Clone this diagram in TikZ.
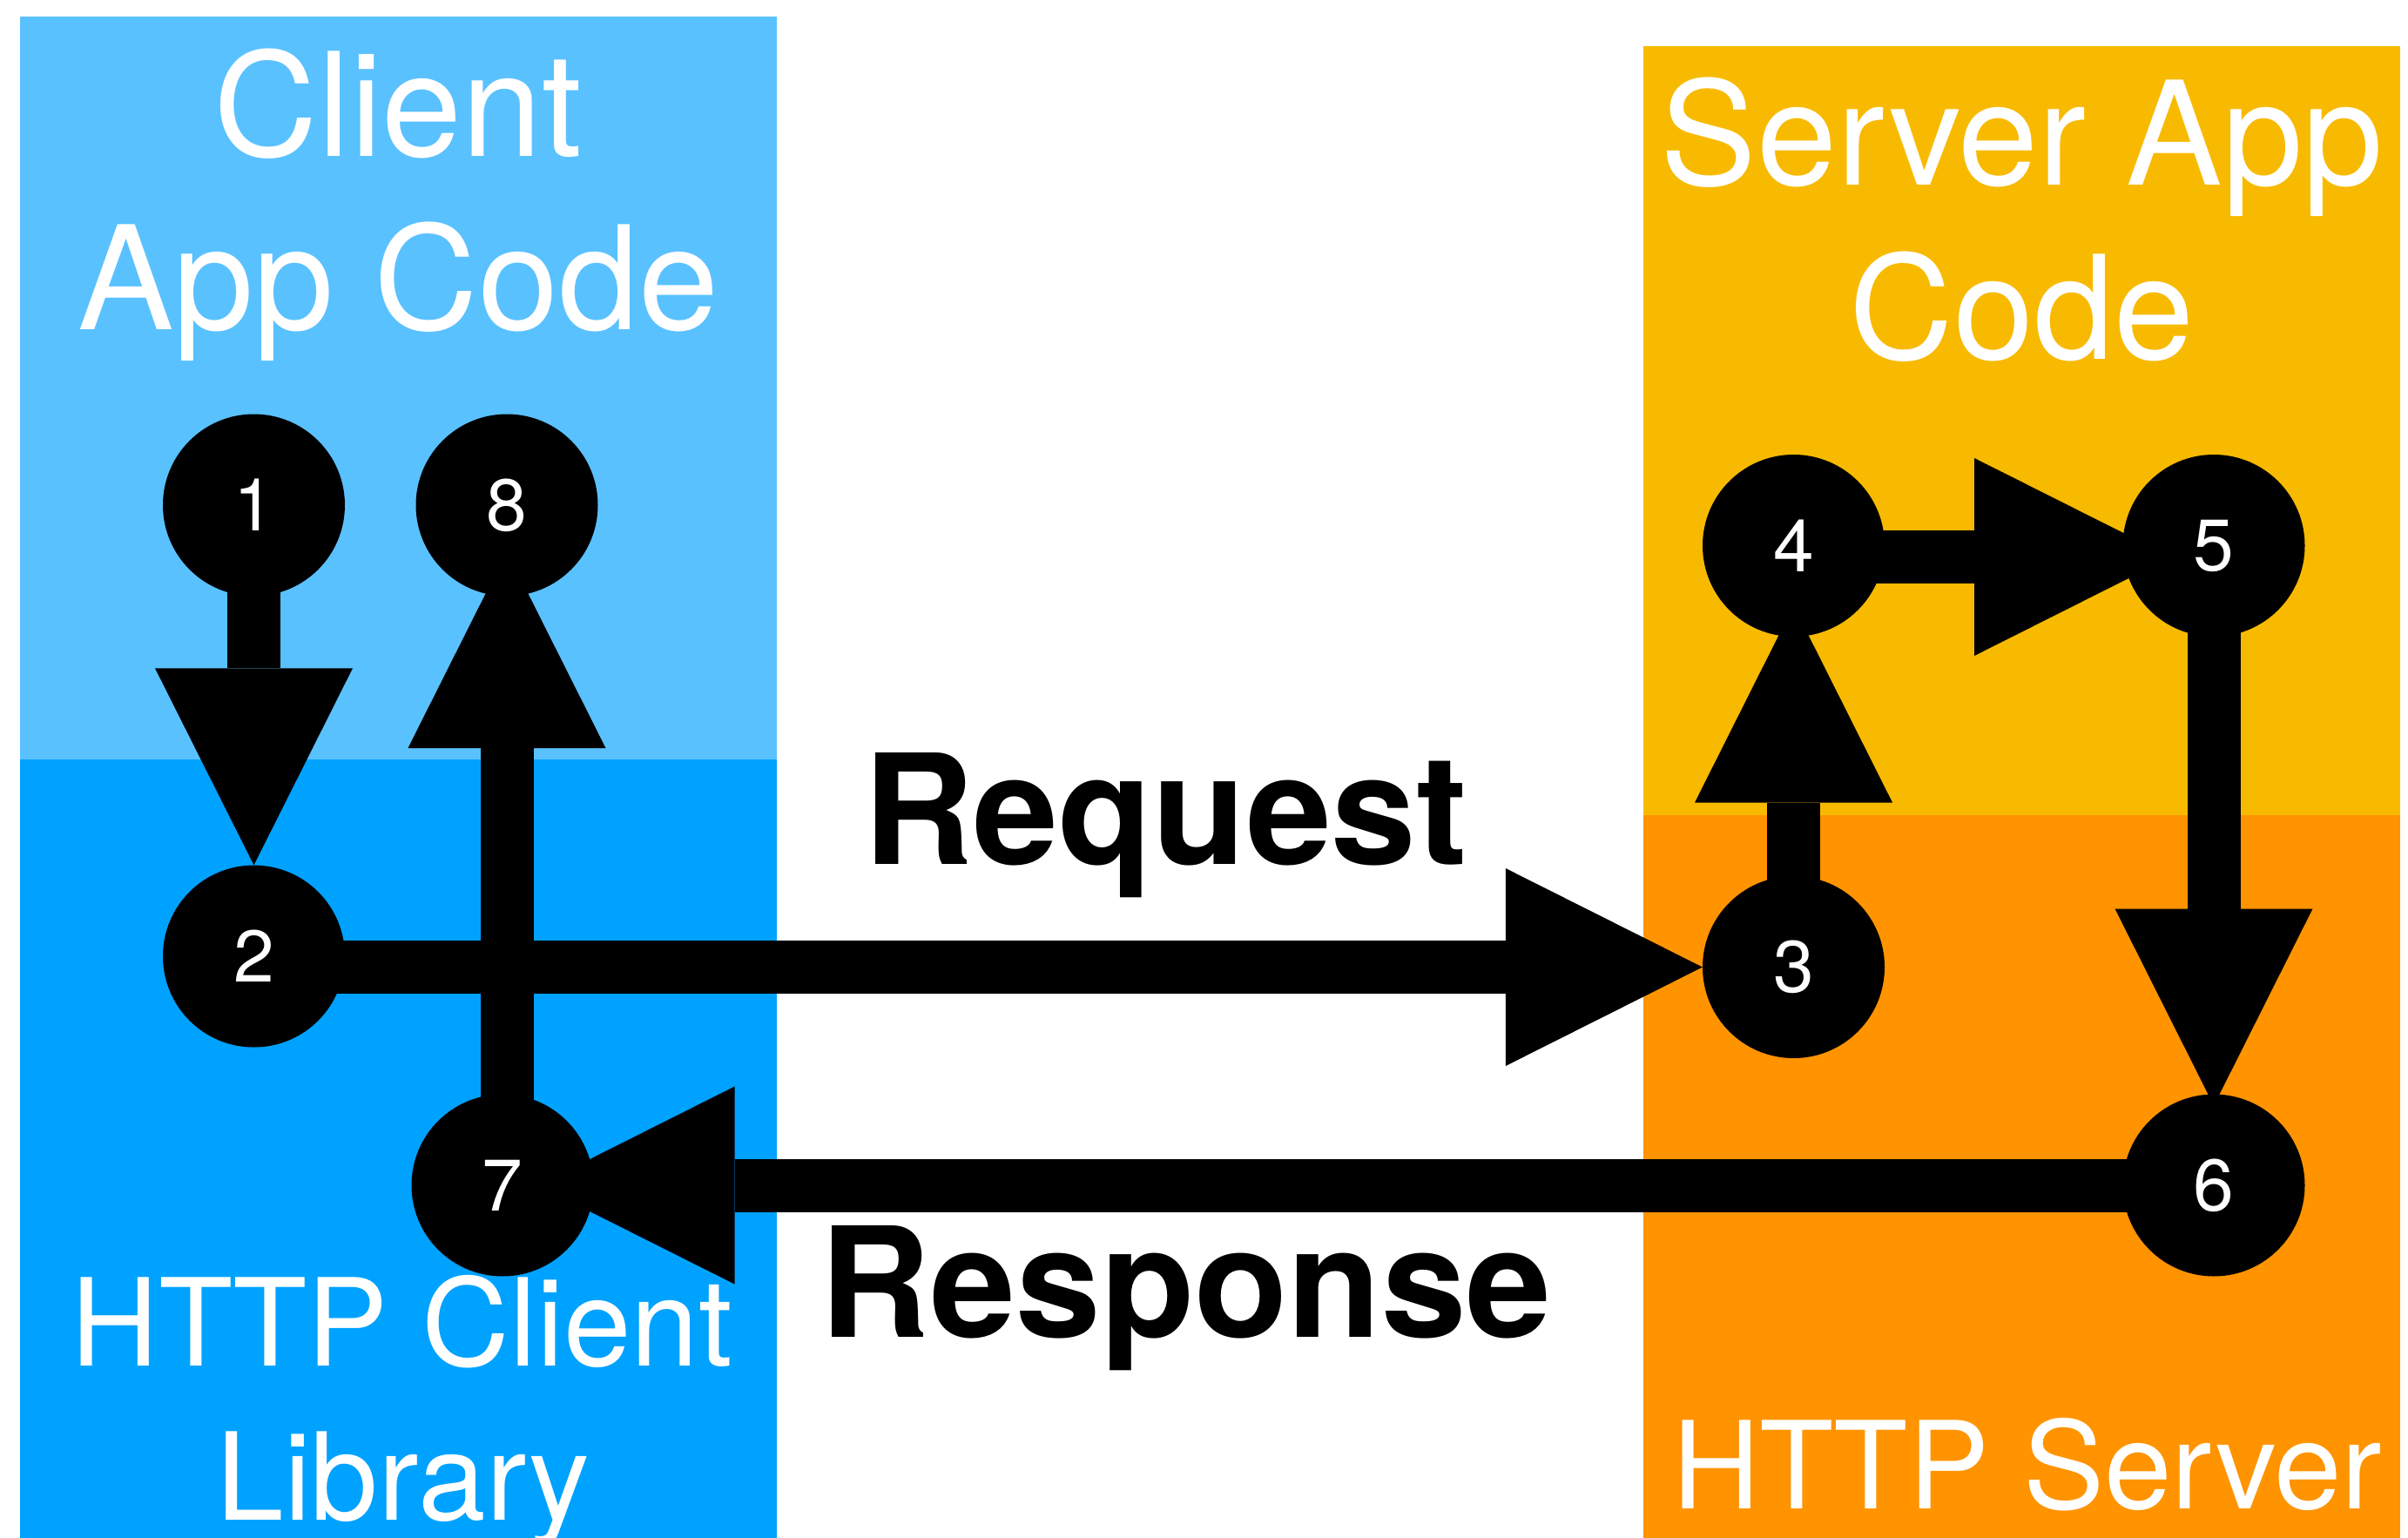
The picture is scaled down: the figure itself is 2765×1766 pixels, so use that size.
\documentclass[tikz,border=0pt]{standalone}
\usepackage{fontspec}
\setmainfont{TeX Gyre Heros}
\usetikzlibrary{arrows.meta,calc}
\pgfdeclarelayer{panels}
\pgfdeclarelayer{links}
\pgfsetlayers{panels,links,main}
\definecolor{clientapp}{HTML}{5AC1FF}
\definecolor{clientlib}{HTML}{00A2FF}
\definecolor{serverapp}{HTML}{F8BA00}
\definecolor{serverhttp}{HTML}{FF9300}
\begin{document}
\begin{tikzpicture}[x=1pt,y=-1pt,
  stepdot/.style={circle, fill=black, minimum size=209pt, inner sep=0pt, text=white,
    font={\fontsize{84pt}{84pt}\selectfont}},
  flow/.style={line width=61pt, -{Triangle[width=227pt,length=226pt,line width=0pt]}},
  title/.style={anchor=base, text=white, inner sep=0pt,
    font={\fontsize{165.5pt}{165.5pt}\selectfont}},
  libtitle/.style={anchor=base, text=white, inner sep=0pt,
    font={\fontsize{139.5pt}{139.5pt}\selectfont}},
  msg/.style={anchor=base, text=black, inner sep=0pt,
    font={\bfseries\fontsize{175.7pt}{175.7pt}\selectfont}},
]
\useasboundingbox (0,0) rectangle (2765,1766);

% background panels
\begin{pgfonlayer}{panels}
  \fill[white] (0,0) rectangle (2765,1766);
  \fill[clientapp]  (22.7,18.9)   rectangle (891.7,871.9);
  \fill[clientlib]  (22.7,871.9)  rectangle (891.7,1766);
  \fill[serverapp]  (1886.8,52.7) rectangle (2756,935.9);
  \fill[serverhttp] (1886.8,935.9) rectangle (2756,1766);
\end{pgfonlayer}

% panel titles
\node[title] (tca1) at (457.4,179.1) {Client};
\node[title] (tca2) at (457.4,378.8) {App Code};
\node[title] (tsa1) at (2321.4,212) {Server App};
\node[title] (tsa2) at (2321.4,412) {Code};
\node[libtitle] (tcl1) at (461.5,1568.5) {HTTP Client};
\node[libtitle] (tcl2) at (463,1745) {Library};
\node[libtitle] (tsh) at (2327.6,1732) {HTTP Server};

% numbered steps
\node[stepdot] (n1) at (291.5,580) {1};
\node[stepdot] (n8) at (582,580) {8};
\node[stepdot] (n2) at (291.5,1098) {2};
\node[stepdot] (n7) at (577,1361) {7};
\node[stepdot] (n3) at (2059.5,1110.5) {3};
\node[stepdot] (n4) at (2059.5,626.5) {4};
\node[stepdot] (n5) at (2542,626.5) {5};
\node[stepdot] (n6) at (2542,1361) {6};

% message labels
\node[msg] (req) at (1338,992.3) {Request};
\node[msg] (resp) at (1361.8,1535.7) {Response};

% flow arrows, drawn beneath the step circles and starting at their centres
\begin{pgfonlayer}{links}
  \draw[flow] (n1.center) -- (n2);
  \draw[flow] (n2 |- n3) -- (n3.west);
  \draw[flow] (n3.center) -- ($(n4)+(0,69)$);
  \draw[flow] ($(n4)+(0,13)$) -- ($(n5)+(-49,13)$);
  \draw[flow] (n5.center) -- ($(n6)+(0,-91.5)$);
  \draw[flow] (n6.center) -- ($(n7)+(40.5,0)$);
  \draw[flow] (n8 |- n7) -- ($(n8)+(0,53)$);
\end{pgfonlayer}
\end{tikzpicture}
\end{document}
